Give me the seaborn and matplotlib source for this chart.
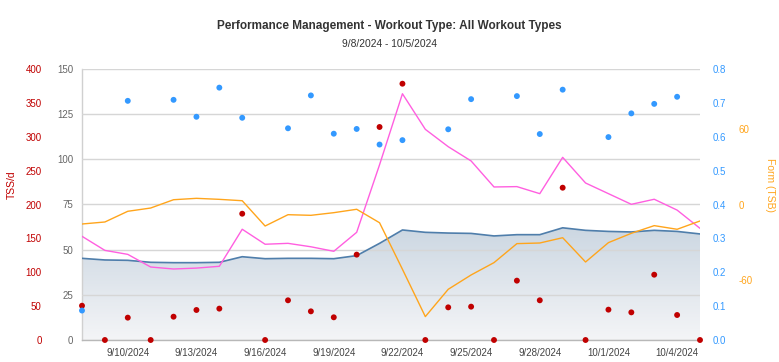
import numpy as np
import pandas as pd
import matplotlib
matplotlib.use("Agg")
import matplotlib.pyplot as plt
import matplotlib.dates as mdates
import seaborn as sns

# ---------------- data ----------------
dates = pd.date_range("2024-09-08", "2024-10-05", freq="D")

ctl = [45.2, 44.3, 44.1, 43.0, 42.8, 42.8, 43.0, 46.1, 45.0, 45.2, 45.2, 45.0, 46.7, 53.5,
       60.9, 59.6, 59.2, 59.0, 57.6, 58.3, 58.3, 62.1, 60.7, 60.1, 59.8, 60.7, 60.1, 58.7]
atl = [57.4, 49.6, 47.4, 40.4, 39.3, 39.8, 40.8, 61.3, 53.0, 53.5, 51.6, 49.1, 59.6, 97.0,
       136.3, 116.6, 107.0, 99.1, 84.7, 84.9, 81.0, 101.1, 86.9, 81.0, 75.1, 77.9, 71.9, 61.8]
tsb = [-15.5, -13.9, -5.4, -2.8, 3.8, 4.9, 4.1, 3.0, -17.1, -8.1, -8.6, -6.5, -3.8, -14.5,
       -51.5, -89.1, -67.4, -56.0, -46.2, -31.1, -30.6, -26.4, -45.7, -30.3, -22.9, -16.8, -19.7, -13.1]
tss = [50.6, 0, 33.0, 0, 34.4, 44.3, 46.3, 186.4, 0, 58.6, 42.3, 33.5, 126.0, 314.4,
       378.3, 0, 48.2, 49.2, 0, 87.6, 58.6, 224.8, 0, 44.8, 40.8, 96.4, 36.9, 0]
intensity = [0.087, np.nan, 0.706, np.nan, 0.709, 0.659, 0.745, 0.656, np.nan, 0.625, 0.722, 0.609,
             0.623, 0.577, 0.590, np.nan, 0.622, 0.711, np.nan, 0.720, 0.608, 0.739, np.nan, 0.599,
             0.669, 0.697, 0.718, np.nan]

ctl_ticks = [0, 25, 50, 75, 100, 125, 150]
tss_ticks = [0, 50, 100, 150, 200, 250, 300, 350, 400]
if_ticks = [0.0, 0.1, 0.2, 0.3, 0.4, 0.5, 0.6, 0.7, 0.8]
form_ticks = [-60, 0, 60]
x_tick_dates = ["2024-09-10", "2024-09-13", "2024-09-16", "2024-09-19", "2024-09-22",
                "2024-09-25", "2024-09-28", "2024-10-01", "2024-10-04"]
x_tick_labels = ["9/10/2024", "9/13/2024", "9/16/2024", "9/19/2024", "9/22/2024",
                 "9/25/2024", "9/28/2024", "10/1/2024", "10/4/2024"]

title = "Performance Management - Workout Type: All Workout Types"
subtitle = "9/8/2024 - 10/5/2024"

df = pd.DataFrame({"date": dates, "ctl": ctl, "atl": atl, "tsb": tsb,
                   "tss": tss, "if": intensity})

# ---------------- style ----------------
sns.set_theme(style="white")
plt.rcParams["font.family"] = ["Liberation Sans", "DejaVu Sans"]
plt.rcParams["axes.unicode_minus"] = False

C_CTL = "#4f7eab"
C_ATL = "#ff5fe0"
C_TSB = "#ffa51c"
C_TSS = "#c00000"
C_IF = "#3399ff"
C_TXT = "#666666"
FS = 7

fig = plt.figure(figsize=(7.79, 3.62), dpi=100)
ax = fig.add_axes([82 / 779, 22 / 362, 618 / 779, 271 / 362])
ax_tss = ax.twinx()
ax_if = ax.twinx()
ax_form = ax.twinx()

x0, x1 = dates[0], dates[-1]

# ---- CTL area with gradient fill ----
poly = ax.fill_between(df["date"], df["ctl"], 0, color="none", lw=0)
xn0, xn1 = mdates.date2num(x0), mdates.date2num(x1)
grad = np.linspace(0, 1, 256).reshape(-1, 1)
cmap = matplotlib.colors.LinearSegmentedColormap.from_list("g", ["#f4f5f7", "#ccd7e2"])
img = ax.imshow(grad, extent=[xn0, xn1, 0, max(ctl)], origin="lower", aspect="auto",
                cmap=cmap, zorder=1)
img.set_clip_path(poly.get_paths()[0], transform=ax.transData)
sns.lineplot(data=df, x="date", y="ctl", ax=ax, color=C_CTL, lw=1.2, zorder=3)
sns.lineplot(data=df, x="date", y="atl", ax=ax, color=C_ATL, lw=1.0, zorder=3)

ax.set_ylim(0, 150)
ax.set_yticks(ctl_ticks)
ax.set_xlim(x0, x1)
ax.set_xticks(pd.to_datetime(x_tick_dates))
ax.set_xticklabels(x_tick_labels)
ax.grid(axis="y", color="#d6d6d6", lw=1)
ax.set_axisbelow(False)
for g in ax.get_ygridlines():
    g.set_zorder(2)
ax.tick_params(axis="y", length=0, pad=6.5, labelsize=FS, labelcolor=C_TXT)
ax.tick_params(axis="x", length=0, pad=6, labelsize=FS, labelcolor="#444444")
ax.set_xlabel("")
ax.set_ylabel("")
for s in ["top", "right"]:
    ax.spines[s].set_visible(False)
ax.spines["left"].set_color("#d0d0d0")
ax.spines["bottom"].set_color("#b8b8b8")
ax.spines["left"].set_linewidth(1)
ax.spines["bottom"].set_linewidth(1)

# ---- TSS/d dots (left outer axis) ----
sns.scatterplot(data=df, x="date", y="tss", ax=ax_tss, color=C_TSS, s=18,
                edgecolor="none", clip_on=False, zorder=5)
ax_tss.set_ylim(0, 400)
ax_tss.set_yticks(tss_ticks)
ax_tss.yaxis.tick_left()
ax_tss.yaxis.set_label_position("left")
ax_tss.tick_params(axis="y", length=0, pad=29, labelsize=FS, labelcolor=C_TSS)
ax_tss.set_ylabel("TSS/d", color=C_TSS, fontsize=7.5)
ax_tss.yaxis.set_label_coords((17 - 82) / 618, (340 - 185) / 271)
ax_tss.set_xlabel("")

# ---- IF dots (right axis) ----
sns.scatterplot(data=df, x="date", y="if", ax=ax_if, color=C_IF, s=18,
                edgecolor="none", clip_on=False, zorder=5)
ax_if.set_ylim(0, 0.8)
ax_if.set_yticks(if_ticks)
ax_if.set_yticklabels([f"{v:.1f}" for v in if_ticks])
ax_if.tick_params(axis="y", length=0, pad=9, labelsize=FS, labelcolor=C_IF)
ax_if.set_ylabel("")
ax_if.set_xlabel("")

# ---- Form (TSB) line (right outer axis) ----
sns.lineplot(data=df, x="date", y="tsb", ax=ax_form, color=C_TSB, lw=1.0)
ax_form.set_ylim(-107.7, 107.7)
ax_form.set_yticks(form_ticks)
ax_form.tick_params(axis="y", length=0, pad=28, labelsize=FS, labelcolor=C_TSB)
ax_form.set_ylabel("Form (TSB)", color=C_TSB, fontsize=7.5, rotation=270, va="center")
ax_form.yaxis.set_label_coords((770 - 82) / 618, (340 - 185) / 271)
ax_form.set_xlabel("")

for a in (ax_tss, ax_if, ax_form):
    for s in a.spines.values():
        s.set_visible(False)
    a.set_xlim(x0, x1)

fig.text(0.5, 1 - 26 / 362, title, ha="center", va="center", fontsize=8.5,
         fontweight="bold", color="#333333")
fig.text(0.5, 1 - 44 / 362, subtitle, ha="center", va="center", fontsize=7.4,
         color="#333333")

fig.savefig("out.png", dpi=100)
